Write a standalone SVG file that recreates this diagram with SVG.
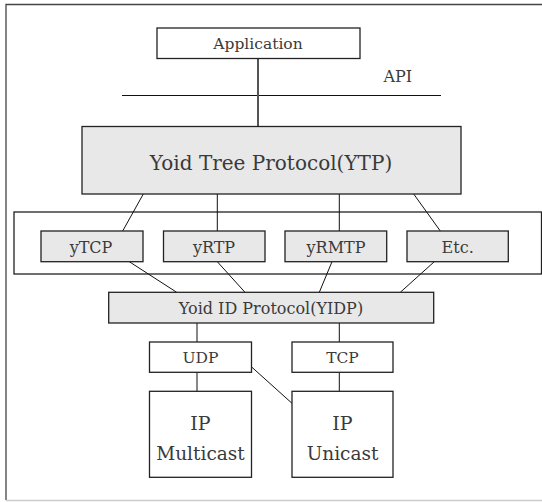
<svg xmlns="http://www.w3.org/2000/svg" width="542" height="502" viewBox="0 0 542 502" font-family="'DejaVu Serif', 'Liberation Serif', serif">
<style>
 .box{fill:#fff;stroke:#222;stroke-width:1.3}
 .gbox{fill:#e8e8e8;stroke:#222;stroke-width:1.3}
 text{fill:#3a3a3a;text-anchor:middle;font-size:16px}
 .c line{stroke:#111;stroke-width:1}
</style>
<rect width="542" height="502" fill="#fff"/>
<path d="M542 4.5H6V500" stroke="#444" stroke-width="1.3" fill="none"/>
<line x1="6" y1="500.5" x2="542" y2="500.5" stroke="#ccc" stroke-width="1.5"/>
<g id="api">
 <line x1="122" y1="95.5" x2="441" y2="95.5" stroke="#111" stroke-width="1.2"/>
 <text x="397.7" y="82" font-size="15">API</text>
</g>
<g id="container"><rect x="14" y="212" width="527.5" height="62" fill="#fff" stroke="#222" stroke-width="1.3"/></g>
<g class="c" id="connectors">
 <line x1="258" y1="58.5" x2="258" y2="126.5" style="stroke:#555;stroke-width:2"/>
 <line x1="143.3" y1="194" x2="122.7" y2="231"/>
 <line x1="217.3" y1="194" x2="217.3" y2="231"/>
 <line x1="339.3" y1="194" x2="339.3" y2="231"/>
 <line x1="413.7" y1="194" x2="440.3" y2="231"/>
 <line x1="129.3" y1="261.7" x2="176.7" y2="292.3"/>
 <line x1="217.3" y1="261.7" x2="245" y2="292.3"/>
 <line x1="332" y1="261.7" x2="319.3" y2="292.3"/>
 <line x1="434.3" y1="261.7" x2="400.3" y2="292.3"/>
 <line x1="197" y1="323" x2="197" y2="342"/>
 <line x1="339.3" y1="323" x2="339.3" y2="342"/>
 <line x1="197" y1="372.3" x2="197" y2="391.3"/>
 <line x1="339.3" y1="372.3" x2="339.3" y2="391.3"/>
 <line x1="251.3" y1="366.7" x2="292" y2="403.3"/>
</g>
<g id="application"><rect class="box" x="157" y="28" width="203" height="30.5"/><text x="258" y="48.5" style="font-size:15.5px">Application</text></g>
<g id="ytp"><rect class="gbox" x="82" y="126.5" width="379" height="67.5"/><text x="271" y="169.5" style="font-size:20px">Yoid Tree Protocol(YTP)</text></g>
<g id="ytcp"><rect class="gbox" x="41" y="231" width="102" height="30.7"/><text x="91" y="253.3">yTCP</text></g>
<g id="yrtp"><rect class="gbox" x="163.5" y="231" width="101.5" height="30.7"/><text x="214" y="253.3">yRTP</text></g>
<g id="yrmtp"><rect class="gbox" x="285" y="231" width="101.7" height="30.7"/><text x="336" y="253.3">yRMTP</text></g>
<g id="etc"><rect class="gbox" x="407" y="231" width="101.3" height="30.7"/><text x="457.7" y="253.3">Etc.</text></g>
<g id="yidp"><rect class="gbox" x="108.7" y="292.3" width="325" height="30.7"/><text x="271" y="314">Yoid ID Protocol(YIDP)</text></g>
<g id="udp"><rect class="box" x="149.5" y="342" width="102" height="30.3"/><text x="200.5" y="362.7" style="font-size:15.5px">UDP</text></g>
<g id="tcp"><rect class="box" x="292" y="342" width="101" height="30.3"/><text x="342.5" y="362.7" style="font-size:15.5px">TCP</text></g>
<g id="ip-multicast"><rect class="box" x="149.5" y="391.3" width="102" height="86"/><text x="200.5" y="430" style="font-size:19px">IP</text><text x="200.5" y="460" style="font-size:18.5px">Multicast</text></g>
<g id="ip-unicast"><rect class="box" x="292" y="391.3" width="101" height="86"/><text x="342.5" y="430" style="font-size:19px">IP</text><text x="342.5" y="460" style="font-size:18.5px">Unicast</text></g>
</svg>
